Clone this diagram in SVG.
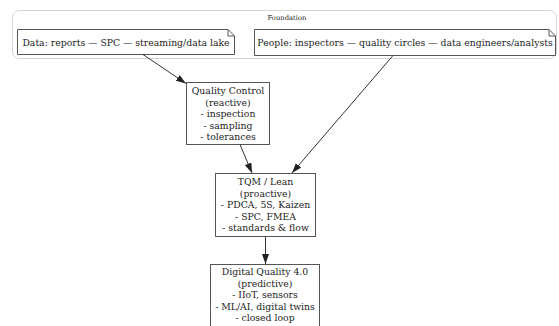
<svg xmlns="http://www.w3.org/2000/svg" width="559" height="326" viewBox="0 0 559 326">
<defs>
<marker id="arr" markerUnits="userSpaceOnUse" markerWidth="10" markerHeight="8" refX="10" refY="3.5" orient="auto">
<path d="M0,0 L10,3.5 L0,7 z" fill="#222"/>
</marker>
<style>
.t{font-family:"DejaVu Serif",serif;font-size:9.3px;fill:#222;text-anchor:middle}
.box{fill:#fff;stroke:#555;stroke-width:1}
.e{stroke:#333;stroke-width:1;fill:none;marker-end:url(#arr)}
</style>
</defs>
<rect width="559" height="326" fill="#fff"/>
<g id="cluster-foundation">
<rect x="12.5" y="10.5" width="544" height="48" rx="7" fill="#fff" stroke="#d4d4d4"/>
<text x="287" y="19.5" class="t" style="font-size:6.8px">Foundation</text>
</g>
<g id="data">
<path class="box" d="M17.5,29.5 H228 L234.5,36 V54.5 H17.5 Z M228,29.5 V36 H234.5"/>
<text x="126" y="45.5" class="t">Data: reports — SPC — streaming/data lake</text>
</g>
<g id="people">
<path class="box" d="M254.5,29.5 H549 L555.5,36 V55.5 H254.5 Z M549,29.5 V36 H555.5"/>
<text x="405" y="45.5" class="t">People: inspectors — quality circles — data engineers/analysts</text>
</g>
<g id="qc">
<rect class="box" x="186.5" y="82.5" width="83" height="62"/>
<text class="t"><tspan x="228" y="94">Quality Control</tspan><tspan x="228" y="105.5">(reactive)</tspan><tspan x="228" y="117">- inspection</tspan><tspan x="228" y="128.5">- sampling</tspan><tspan x="228" y="140">- tolerances</tspan></text>
</g>
<g id="tqm">
<rect class="box" x="215.5" y="173.5" width="100" height="63"/>
<text class="t"><tspan x="265.5" y="185">TQM / Lean</tspan><tspan x="265.5" y="196.5">(proactive)</tspan><tspan x="265.5" y="208">- PDCA, 5S, Kaizen</tspan><tspan x="265.5" y="219.5">- SPC, FMEA</tspan><tspan x="265.5" y="231">- standards &amp; flow</tspan></text>
</g>
<g id="digital">
<rect class="box" x="210.5" y="264.5" width="109" height="70"/>
<text class="t"><tspan x="265" y="275">Digital Quality 4.0</tspan><tspan x="265" y="286.5">(predictive)</tspan><tspan x="265" y="298">- IIoT, sensors</tspan><tspan x="265" y="309.5">- ML/AI, digital twins</tspan><tspan x="265" y="321">- closed loop</tspan></text>
</g>
<g id="edges">
<line class="e" x1="143" y1="54.5" x2="186" y2="83.5"/>
<line class="e" x1="393" y1="55.5" x2="292" y2="173"/>
<line class="e" x1="240" y1="144.5" x2="252" y2="173"/>
<line class="e" x1="265.5" y1="236.5" x2="265.5" y2="264"/>
</g>
</svg>
